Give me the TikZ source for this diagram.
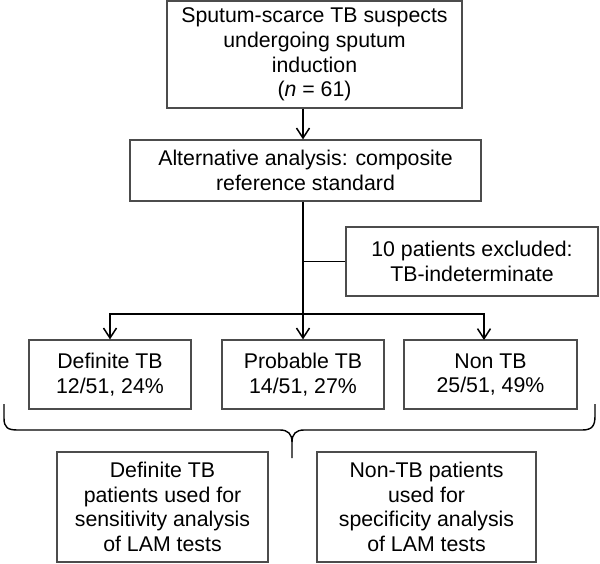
\documentclass[tikz,border=0pt]{standalone}
\usepackage{fontspec}
\setmainfont{Liberation Sans}
\usetikzlibrary{arrows.meta}
\begin{document}
\begin{tikzpicture}[x=1pt,y=-1pt,
  box/.style={draw=black!70, line width=1.2pt, align=center, inner sep=0pt,
    font=\fontsize{21.3}{24.7}\selectfont},
  conn/.style={draw=black, line width=1.5pt},
  arr/.style={conn, -{Straight Barb[length=10pt,width=13pt,line width=1.5pt]}}]
\useasboundingbox (0,0) rectangle (600,563);

\node[box, minimum width=295pt, minimum height=107pt] (top) at (314.5,54.5)
  {\raisebox{-3pt}{\parbox{290pt}{\centering Sputum-scarce TB suspects\\undergoing sputum\\induction\\(\textit{n} = 61)}}};
\node[box, minimum width=351pt, minimum height=61pt] (alt) at (305.5,170.5)
  {Alternative analysis: composite\\reference standard};
\node[box, minimum width=252pt, minimum height=69pt] (excl) at (472,261.5)
  {10 patients excluded:\\TB-indeterminate};
\node[box, minimum width=162pt, minimum height=69pt] (def) at (110,374.5)
  {Definite TB\\12/51, 24\%};
\node[box, minimum width=162pt, minimum height=69pt] (prob) at (303,374.5)
  {Probable TB\\14/51, 27\%};
\node[box, minimum width=173pt, minimum height=69pt] (non) at (490.5,374.5)
  {Non TB\\25/51, 49\%};
\node[box, minimum width=211pt, minimum height=110pt] (sens) at (162.5,507)
  {Definite TB\\patients used for\\sensitivity analysis\\of LAM tests};
\node[box, minimum width=219pt, minimum height=110pt] (spec) at (426.5,507)
  {Non-TB patients\\used for\\specificity analysis\\of LAM tests};

\coordinate (split) at (303,314);
\coordinate (nonin) at (484,340);

\draw[arr] (top.south -| prob.north) -- (alt.north -| prob.north);
\draw[arr] (alt.south -| prob.north) -- (prob.north);
\draw[conn] (excl.west) -- (excl.west -| prob.north);
\draw[arr] (split) -| (def.north);
\draw[arr] (split) -| (nonin);

\draw[conn, line width=1.4pt] (4,404) -- (4,418) .. controls (4,428) and (8,430) .. (18,430)
  -- (280,430) .. controls (288,430) and (292,434) .. (292,442) -- (292,458);
\draw[conn, line width=1.4pt] (292,442) .. controls (292,434) and (296,430) .. (304,430)
  -- (582,430) .. controls (592,430) and (595,426) .. (595,416) -- (595,404);
\end{tikzpicture}
\end{document}
